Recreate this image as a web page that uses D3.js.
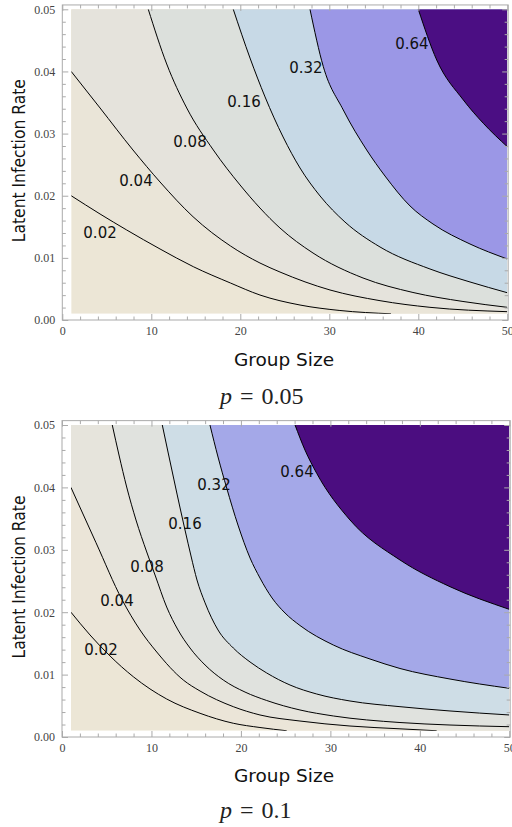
<!DOCTYPE html>
<html>
<head>
<meta charset="utf-8">
<script src="https://cdn.jsdelivr.net/npm/d3@7"></script>
<style>
  body { margin: 0; background: #fff; }
  svg { display: block; }
</style>
</head>
<body>
<svg id="chart" width="512" height="827"></svg>
<script>
// contour levels and axis ticks
const levels = [0.02, 0.04, 0.08, 0.16, 0.32, 0.64];
const levelLabels = ['0.02', '0.04', '0.08', '0.16', '0.32', '0.64'];
const groupTicks = [0, 10, 20, 30, 40, 50];
const rateTicks = [0, 0.01, 0.02, 0.03, 0.04, 0.05];

// p = 0.05 contours, [group size, latent infection rate]
const p05c002 = [[1, 0.02], [4.24, 0.01706], [7.24, 0.01448], [10.98, 0.01143], [14.72, 0.00858],
  [18.9, 0.00595], [22.21, 0.00402], [26.71, 0.00241], [31.19, 0.00153], [36.93, 0.001]];
const p05c004 = [[1, 0.04], [4.24, 0.03412], [7.94, 0.02736], [10.98, 0.02221], [14.69, 0.01662],
  [18.9, 0.01191], [22.21, 0.00917], [24.46, 0.00772], [30.08, 0.00483], [35.7, 0.00311],
  [41.31, 0.00204], [50, 0.00134]];
const p05c008 = [[9.66, 0.05], [11.73, 0.0412], [13.98, 0.03412], [16.97, 0.02736], [19.97, 0.02173],
  [22.21, 0.01802], [24.46, 0.0148], [28.17, 0.01078], [33.79, 0.00676], [39.4, 0.00443],
  [45.02, 0.00298], [50, 0.00204]];
const p05c016 = [[19.21, 0.05], [21.09, 0.04216], [22.78, 0.0359], [24.81, 0.02945], [26.71, 0.02446],
  [28.96, 0.01996], [31.76, 0.01577], [35.7, 0.01175], [41.31, 0.00821], [45.81, 0.00612],
  [50, 0.00439]];
const p05c032 = [[27.83, 0.05], [29.33, 0.04076], [31.57, 0.0338], [34.2, 0.02736], [36.26, 0.02317],
  [39.07, 0.01835], [41.65, 0.01545], [45.81, 0.01223], [50, 0.00982]];
const p05c064 = [[40.0, 0.05], [42.07, 0.04184], [45.06, 0.03541], [47.3, 0.03166], [50, 0.02789]];
const p05LabelPos = [[4.24, 0.014], [8.28, 0.0224], [14.35, 0.02865], [20.42, 0.03508],
  [27.38, 0.04055], [39.29, 0.04442]];

// p = 0.1 contours
const p10c002 = [[1, 0.02], [3.13, 0.01635], [5.37, 0.01298], [7.97, 0.00966], [11.7, 0.00609],
  [15.43, 0.0038], [19.15, 0.0022], [22.13, 0.00152], [25.12, 0.001]];
const p10c004 = [[1, 0.04], [3.8, 0.03114], [6.71, 0.02201], [8.72, 0.01715], [10.59, 0.01362],
  [13.56, 0.00913], [15.43, 0.00737], [19.15, 0.00486], [22.13, 0.00353], [26.6, 0.00256],
  [32.19, 0.00176], [37.78, 0.00131], [41.88, 0.001]];
const p10c008 = [[5.62, 0.05], [6.37, 0.04519], [7.23, 0.04006], [8.27, 0.03478], [9.47, 0.02965],
  [10.4, 0.02596], [11.7, 0.02083], [12.97, 0.01715], [14.31, 0.01426], [15.99, 0.01154],
  [18.03, 0.00913], [20.46, 0.0072], [22.88, 0.00585], [26.6, 0.00433], [30.33, 0.00337],
  [37.78, 0.00232], [43.37, 0.00192], [50, 0.00165]];
const p10c016 = [[11.21, 0.05], [11.85, 0.04567], [12.52, 0.04119], [13.2, 0.03670], [13.75, 0.03317],
  [14.42, 0.02901], [15.09, 0.02516], [15.99, 0.0215], [17.44, 0.01715], [19.15, 0.01426],
  [21.02, 0.01202], [22.88, 0.01026], [25.49, 0.00833], [28.47, 0.00689], [32.19, 0.00577],
  [37.78, 0.00486], [43.37, 0.00417], [50, 0.00353]];
const p10c032 = [[16.54, 0.05], [17.44, 0.04487], [18.41, 0.03990], [19.67, 0.03397], [21.02, 0.02869],
  [22.13, 0.02548], [23.48, 0.02228], [24.93, 0.01987], [26.6, 0.01787], [30.33, 0.01474],
  [34.43, 0.01250], [37.78, 0.01098], [43.37, 0.00929], [50, 0.0078]];
const p10c064 = [[26.05, 0.05], [27.16, 0.04599], [28.47, 0.04226], [32.19, 0.03478], [37.78, 0.02837],
  [43.37, 0.02409], [50, 0.02046]];
const p10LabelPos = [[4.36, 0.01394], [6.15, 0.02179], [9.5, 0.02724], [13.75, 0.03413],
  [16.99, 0.04038], [26.27, 0.04247]];

const groupRange = [1, 50];      // plotted region
const rateRange = [0.001, 0.05];

const panels = [
  {
    p: '0.05',
    contours: [p05c002, p05c004, p05c008, p05c016, p05c032, p05c064],
    labels: p05LabelPos,
    colors: ['#ece6d6', '#eae5d8', '#e5e3dc', '#dce0dc', '#c7d9e6', '#9b97e6', '#4b0e83'],
    left: 62.3, right: 507.3, top: 9.3, bottom: 320,
    xTitleY: 366, pTitleY: 404
  },
  {
    p: '0.1',
    contours: [p10c002, p10c004, p10c008, p10c016, p10c032, p10c064],
    labels: p10LabelPos,
    colors: ['#ece6d6', '#ebe5d8', '#e6e4dc', '#e0e2de', '#cedde6', '#a4a8e8', '#4b0d80'],
    left: 62, right: 509.3, top: 425, bottom: 737,
    xTitleY: 782, pTitleY: 818
  }
];

const svg = d3.select('#chart');
const frameColor = '#aaa';

panels.forEach((panel, i) => {
  const x = d3.scaleLinear().domain([0, 50]).range([panel.left, panel.right]);
  const y = d3.scaleLinear().domain([0, 0.05]).range([panel.bottom, panel.top]);
  const g = svg.append('g');

  const clipId = 'clip' + i;
  g.append('clipPath').attr('id', clipId)
    .append('rect')
    .attr('x', x(groupRange[0])).attr('y', y(rateRange[1]))
    .attr('width', x(groupRange[1]) - x(groupRange[0]))
    .attr('height', y(rateRange[0]) - y(rateRange[1]));

  const plot = g.append('g').attr('clip-path', `url(#${clipId})`);

  plot.append('rect')
    .attr('x', x(groupRange[0])).attr('y', y(rateRange[1]))
    .attr('width', x(groupRange[1]) - x(groupRange[0]))
    .attr('height', y(rateRange[0]) - y(rateRange[1]))
    .attr('fill', panel.colors[0]);

  const line = d3.line()
    .x(d => x(d[0]))
    .y(d => y(d[1]))
    .curve(d3.curveMonotoneX);

  // region above each level: contour, then round the top-right corner
  const regionPath = (pts) => {
    const first = pts[0];
    const last = pts[pts.length - 1];
    const corners = [];
    if (last[0] < groupRange[1]) corners.push([groupRange[1], rateRange[0]]);
    corners.push([groupRange[1], rateRange[1]]);
    if (first[1] < rateRange[1]) corners.push([groupRange[0], rateRange[1]]);
    return line(pts) + corners.map(c => `L${x(c[0])},${y(c[1])}`).join('') + 'Z';
  };

  panel.contours.forEach((pts, k) => {
    plot.append('path')
      .attr('d', regionPath(pts))
      .attr('fill', panel.colors[k + 1]);
  });

  panel.contours.forEach((pts) => {
    plot.append('path')
      .attr('d', line(pts))
      .attr('fill', 'none')
      .attr('stroke', '#000')
      .attr('stroke-width', 1);
  });

  // frame with inward ticks on all sides
  const frameTop = y(0.0507);
  const frameRight = x(50.1);
  g.append('rect')
    .attr('x', x(0)).attr('y', frameTop)
    .attr('width', frameRight - x(0)).attr('height', y(0) - frameTop)
    .attr('fill', 'none').attr('stroke', frameColor);

  const minorX = d3.range(0, 51, 2).filter(v => v % 10);
  const minorY = d3.range(1, 26).filter(v => v % 5).map(v => v * 0.002);

  const addAxis = (axis, transform) => {
    const a = g.append('g').attr('transform', transform).call(axis);
    a.select('.domain').remove();
    a.selectAll('line').attr('stroke', frameColor);
    a.selectAll('text')
      .attr('fill', '#444')
      .style('font-family', '"Liberation Serif", "Times New Roman", serif')
      .style('font-size', '12px');
    return a;
  };

  addAxis(d3.axisBottom(x).tickValues(groupTicks).tickSize(-6).tickPadding(6), `translate(0,${y(0)})`);
  addAxis(d3.axisBottom(x).tickValues(minorX).tickSize(-3.5).tickFormat(''), `translate(0,${y(0)})`);
  addAxis(d3.axisTop(x).tickValues(groupTicks).tickSize(-6).tickFormat(''), `translate(0,${frameTop})`);
  addAxis(d3.axisTop(x).tickValues(minorX).tickSize(-3.5).tickFormat(''), `translate(0,${frameTop})`);
  addAxis(d3.axisLeft(y).tickValues(rateTicks).tickSize(-6).tickPadding(7).tickFormat(d3.format('.2f')),
    `translate(${x(0)},0)`);
  addAxis(d3.axisLeft(y).tickValues(minorY).tickSize(-3.5).tickFormat(''), `translate(${x(0)},0)`);
  addAxis(d3.axisRight(y).tickValues(rateTicks).tickSize(-6).tickFormat(''), `translate(${frameRight},0)`);
  addAxis(d3.axisRight(y).tickValues(minorY).tickSize(-3.5).tickFormat(''), `translate(${frameRight},0)`);

  // contour labels
  g.selectAll('text.clabel')
    .data(panel.labels)
    .join('text')
    .attr('class', 'clabel')
    .attr('x', d => x(d[0]))
    .attr('y', d => y(d[1]))
    .attr('dy', '0.36em')
    .attr('text-anchor', 'middle')
    .style('font-family', '"DejaVu Sans", sans-serif')
    .style('font-size', '15px')
    .attr('fill', '#111')
    .text((d, k) => levelLabels[k]);

  // axis titles
  const midY = (y(0.05) + y(0)) / 2 - 4;
  g.append('text')
    .attr('transform', `translate(25,${midY}) rotate(-90)`)
    .attr('text-anchor', 'middle')
    .attr('textLength', 163)
    .attr('lengthAdjust', 'spacingAndGlyphs')
    .style('font-family', '"DejaVu Sans", sans-serif')
    .style('font-size', '17.5px')
    .attr('fill', '#111')
    .text('Latent Infection Rate');

  g.append('text')
    .attr('x', 284)
    .attr('y', panel.xTitleY)
    .attr('text-anchor', 'middle')
    .style('font-family', '"DejaVu Sans", sans-serif')
    .style('font-size', '18.5px')
    .attr('fill', '#111')
    .text('Group Size');

  const pt = g.append('text')
    .attr('x', 220)
    .attr('y', panel.pTitleY)
    .style('font-family', '"Liberation Serif", "Times New Roman", serif')
    .style('font-size', '24px')
    .attr('fill', '#222');
  pt.append('tspan').style('font-style', 'italic').text('p');
  pt.append('tspan').attr('dx', 8).text('=');
  pt.append('tspan').attr('dx', 8).text(panel.p);
});
</script>
</body>
</html>
